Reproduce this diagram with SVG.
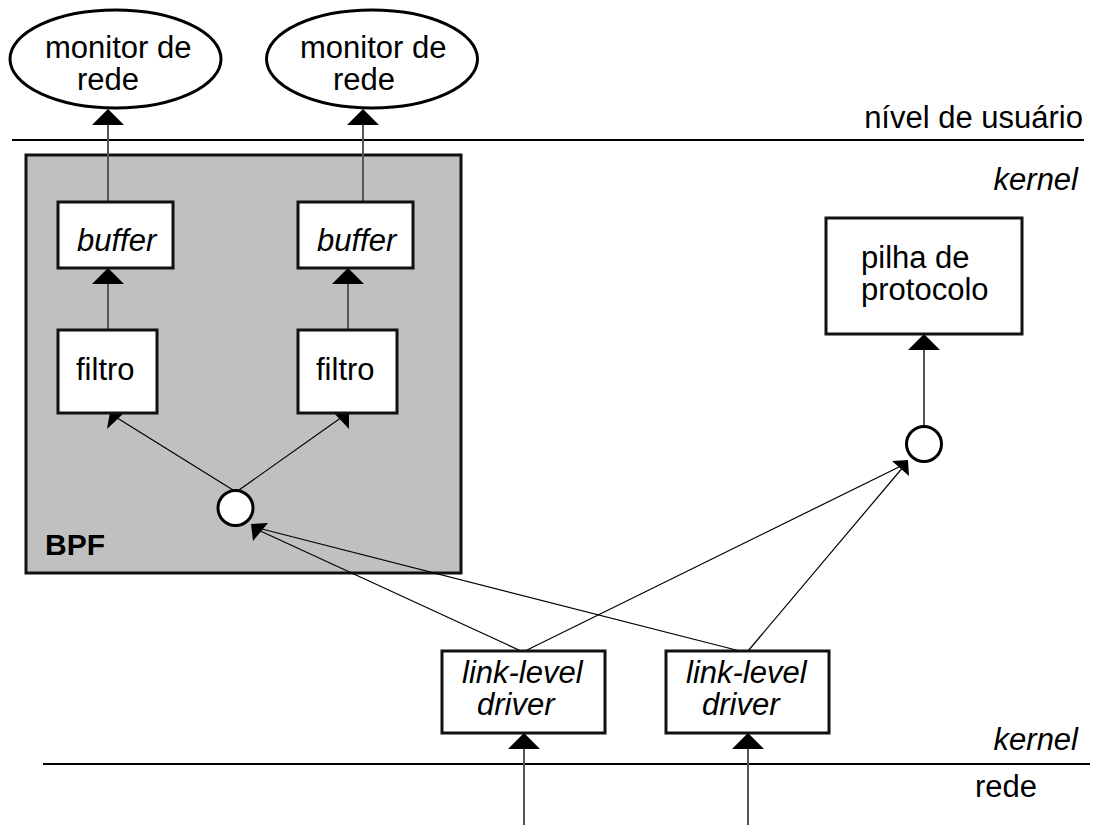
<svg xmlns="http://www.w3.org/2000/svg" width="1113" height="825" viewBox="0 0 1113 825">
  <style>
    text { font-family: "Liberation Sans", Arial, sans-serif; font-size: 31px; fill: #000; }
    .it { font-style: italic; }
    .bold { font-weight: bold; font-size: 30px; }
    .box { fill: #fff; stroke: #111; stroke-width: 3; }
    .oval { fill: #fff; stroke: #000; stroke-width: 3; }
    .node { fill: #fff; stroke: #000; stroke-width: 3; }
    .rule { stroke: #000; stroke-width: 2; fill: none; }
    .vline { stroke: #555; stroke-width: 2; fill: none; }
    .dline { stroke: #000; stroke-width: 1.2; fill: none; }
    .head { fill: #000; stroke: none; }
  </style>
  <defs>
    <!-- upward pointing arrowhead, tip at origin -->
    <polygon id="up" class="head" points="0,0 16,16 -16,16"/>
  </defs>

  <rect width="1113" height="825" fill="#fff"/>

  <!-- level separators and labels -->
  <g id="levels">
    <line class="rule" x1="12" y1="140" x2="1084" y2="140"/>
    <line class="rule" x1="43" y1="764" x2="1090" y2="764"/>
    <text x="1083" y="128" text-anchor="end">nível de usuário</text>
    <text class="it" x="1078" y="190" text-anchor="end">kernel</text>
    <text class="it" x="1078" y="750" text-anchor="end">kernel</text>
    <text x="975" y="797">rede</text>
  </g>

  <!-- BPF container -->
  <g id="bpf">
    <rect x="26" y="155" width="435" height="418" fill="#c0c0c0" stroke="#111" stroke-width="3"/>
    <text class="bold" x="45" y="555">BPF</text>
  </g>

  <!-- connectors -->
  <g id="connectors">
    <!-- buffers to monitors -->
    <line class="vline" x1="108" y1="202" x2="108" y2="122"/>
    <use href="#up" x="108" y="109"/>
    <line class="vline" x1="363" y1="202" x2="363" y2="122"/>
    <use href="#up" x="363" y="109"/>
    <!-- filters to buffers -->
    <line class="vline" x1="108" y1="330" x2="108" y2="280"/>
    <use href="#up" x="108" y="268"/>
    <line class="vline" x1="348" y1="330" x2="348" y2="280"/>
    <use href="#up" x="348" y="268"/>
    <!-- BPF tap to filters -->
    <line class="dline" x1="233" y1="490" x2="114" y2="416"/>
    <polygon class="head" points="107,429 110,412 125,412"/>
    <line class="dline" x1="239" y1="490" x2="342" y2="417"/>
    <polygon class="head" points="333,412 349,412 349,429"/>
    <!-- drivers to BPF tap -->
    <line class="dline" x1="521" y1="651" x2="256" y2="529"/>
    <line class="dline" x1="740" y1="651" x2="258" y2="528"/>
    <polygon class="head" points="251,524 268,523 253,541"/>
    <!-- drivers to protocol tap -->
    <line class="dline" x1="525" y1="651" x2="903" y2="465"/>
    <line class="dline" x1="748" y1="651" x2="904" y2="466"/>
    <polygon class="head" points="892,461 908,460 909,476"/>
    <!-- protocol tap to stack -->
    <line class="vline" x1="924" y1="426" x2="924" y2="345"/>
    <use href="#up" x="924" y="334"/>
    <!-- network to drivers -->
    <line class="vline" x1="524" y1="825" x2="524" y2="745"/>
    <use href="#up" x="524" y="733"/>
    <line class="vline" x1="748" y1="825" x2="748" y2="745"/>
    <use href="#up" x="748" y="733"/>
  </g>

  <g id="monitor1">
    <ellipse class="oval" cx="115.5" cy="59" rx="105.5" ry="49"/>
    <text x="45" y="58">monitor de</text>
    <text x="77" y="90">rede</text>
  </g>
  <g id="monitor2">
    <ellipse class="oval" cx="372" cy="59" rx="105.5" ry="49"/>
    <text x="300" y="58">monitor de</text>
    <text x="333" y="90">rede</text>
  </g>

  <g id="buffer1">
    <rect class="box" x="58" y="202" width="115" height="66"/>
    <text class="it" x="77" y="251">buffer</text>
  </g>
  <g id="buffer2">
    <rect class="box" x="298" y="202" width="115" height="66"/>
    <text class="it" x="317" y="251">buffer</text>
  </g>

  <g id="filtro1">
    <rect class="box" x="58" y="330" width="99" height="83"/>
    <text x="76" y="380">filtro</text>
  </g>
  <g id="filtro2">
    <rect class="box" x="298" y="330" width="99" height="83"/>
    <text x="316" y="380">filtro</text>
  </g>

  <g id="tap-bpf">
    <circle class="node" cx="235.5" cy="508" r="17.5"/>
  </g>
  <g id="tap-stack">
    <circle class="node" cx="924" cy="444" r="17.5"/>
  </g>

  <g id="pilha">
    <rect class="box" x="826" y="218" width="196" height="116"/>
    <text x="861" y="268">pilha de</text>
    <text x="861" y="300">protocolo</text>
  </g>

  <g id="driver1">
    <rect class="box" x="442" y="651" width="163" height="82"/>
    <text class="it" x="462" y="683">link-level</text>
    <text class="it" x="477" y="715">driver</text>
  </g>
  <g id="driver2">
    <rect class="box" x="666" y="651" width="163" height="82"/>
    <text class="it" x="686" y="683">link-level</text>
    <text class="it" x="702" y="715">driver</text>
  </g>
</svg>
